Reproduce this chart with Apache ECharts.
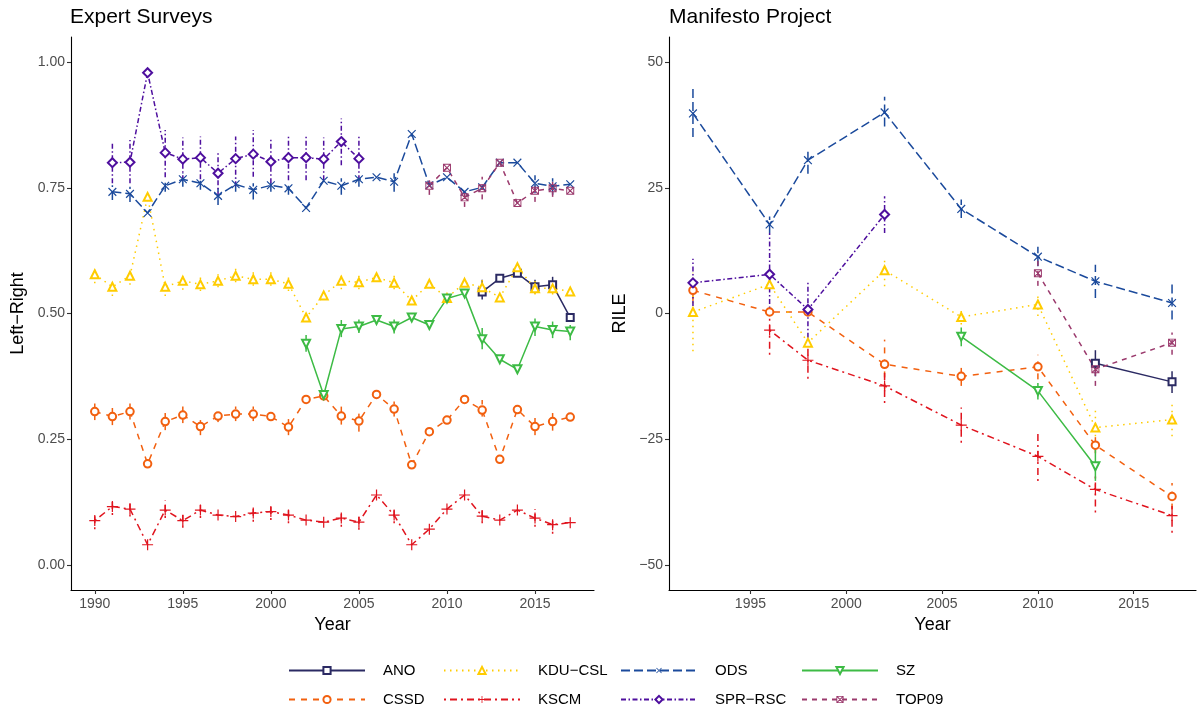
<!DOCTYPE html>
<html>
<head>
<meta charset="utf-8">
<script src="https://cdn.jsdelivr.net/npm/echarts@6/dist/echarts.min.js"></script>
<style>
  html, body { margin: 0; padding: 0; background: #fff; }
  #chart { width: 1198px; height: 709px; }
</style>
</head>
<body>
<div id="chart"></div>
<script>
// parties, in legend order (row-major: columns read top then bottom)
const parties = ['ANO', 'CSSD', 'KDU−CSL', 'KSCM', 'ODS', 'SPR−RSC', 'SZ', 'TOP09'];
const xTicksES = [1990, 1995, 2000, 2005, 2010, 2015];
const yTicksES = [0, 0.25, 0.5, 0.75, 1];
const xTicksMP = [1995, 2000, 2005, 2010, 2015];
const yTicksMP = [-50, -25, 0, 25, 50];

// Expert surveys: [year, score]
const esANO = [[2012, 0.543], [2013, 0.570], [2014, 0.580], [2015, 0.553], [2016, 0.557], [2017, 0.492]];
const esCSSD = [[1990, 0.305], [1991, 0.295], [1992, 0.305], [1993, 0.201], [1994, 0.285], [1995, 0.298],
  [1996, 0.275], [1997, 0.296], [1998, 0.300], [1999, 0.300], [2000, 0.295], [2001, 0.274], [2002, 0.329],
  [2003, 0.336], [2004, 0.296], [2005, 0.286], [2006, 0.339], [2007, 0.310], [2008, 0.199], [2009, 0.265],
  [2010, 0.288], [2011, 0.329], [2012, 0.308], [2013, 0.210], [2014, 0.309], [2015, 0.275], [2016, 0.285], [2017, 0.294]];
const esKDU = [[1990, 0.578], [1991, 0.553], [1992, 0.575], [1993, 0.732], [1994, 0.553], [1995, 0.565],
  [1996, 0.558], [1997, 0.565], [1998, 0.575], [1999, 0.568], [2000, 0.568], [2001, 0.559], [2002, 0.492],
  [2003, 0.536], [2004, 0.565], [2005, 0.562], [2006, 0.572], [2007, 0.561], [2008, 0.526], [2009, 0.559],
  [2010, 0.531], [2011, 0.561], [2012, 0.552], [2013, 0.532], [2014, 0.592], [2015, 0.550], [2016, 0.550], [2017, 0.544]];
const esKSCM = [[1990, 0.088], [1991, 0.116], [1992, 0.111], [1993, 0.040], [1994, 0.109], [1995, 0.088],
  [1996, 0.109], [1997, 0.099], [1998, 0.096], [1999, 0.103], [2000, 0.106], [2001, 0.099], [2002, 0.089],
  [2003, 0.085], [2004, 0.093], [2005, 0.085], [2006, 0.139], [2007, 0.099], [2008, 0.040], [2009, 0.071],
  [2010, 0.111], [2011, 0.139], [2012, 0.097], [2013, 0.089], [2014, 0.109], [2015, 0.093], [2016, 0.080], [2017, 0.084]];
const esODS = [[1991, 0.742], [1992, 0.738], [1993, 0.700], [1994, 0.754], [1995, 0.767], [1996, 0.759],
  [1997, 0.734], [1998, 0.757], [1999, 0.746], [2000, 0.755], [2001, 0.749], [2002, 0.710], [2003, 0.764],
  [2004, 0.754], [2005, 0.767], [2006, 0.771], [2007, 0.762], [2008, 0.857], [2009, 0.755], [2010, 0.771],
  [2011, 0.742], [2012, 0.751], [2013, 0.800], [2014, 0.800], [2015, 0.759], [2016, 0.753], [2017, 0.757]];
const esSPR = [[1991, 0.800], [1992, 0.801], [1993, 0.979], [1994, 0.820], [1995, 0.807], [1996, 0.810],
  [1997, 0.779], [1998, 0.808], [1999, 0.817], [2000, 0.802], [2001, 0.810], [2002, 0.810], [2003, 0.807],
  [2004, 0.842], [2005, 0.808]];
const esSZ = [[2002, 0.440], [2003, 0.338], [2004, 0.469], [2005, 0.474], [2006, 0.487], [2007, 0.474],
  [2008, 0.492], [2009, 0.477], [2010, 0.530], [2011, 0.540], [2012, 0.449], [2013, 0.409], [2014, 0.389],
  [2015, 0.474], [2016, 0.467], [2017, 0.464]];
const esTOP09 = [[2009, 0.754], [2010, 0.790], [2011, 0.731], [2012, 0.749], [2013, 0.800], [2014, 0.720],
  [2015, 0.744], [2016, 0.749], [2017, 0.744]];

// Expert survey uncertainty: [year, low, high]
const esANOErr = [[2012, 0.528, 0.567], [2015, 0.540, 0.567], [2016, 0.543, 0.573]];
const esCSSDErr = [[1990, 0.288, 0.321], [1991, 0.278, 0.312], [1992, 0.289, 0.321], [1994, 0.268, 0.302],
  [1995, 0.282, 0.315], [1996, 0.258, 0.288], [1997, 0.284, 0.306], [1998, 0.286, 0.315], [1999, 0.286, 0.315],
  [2001, 0.258, 0.290], [2004, 0.279, 0.315], [2005, 0.265, 0.305], [2007, 0.295, 0.325], [2012, 0.295, 0.328],
  [2015, 0.258, 0.292], [2016, 0.267, 0.302]];
const esKDUErr = [[1990, 0.560, 0.590], [1991, 0.535, 0.567], [1992, 0.557, 0.587], [1994, 0.535, 0.568],
  [1995, 0.547, 0.580], [1996, 0.545, 0.572], [1997, 0.552, 0.578], [1998, 0.562, 0.590], [1999, 0.555, 0.582],
  [2000, 0.555, 0.582], [2001, 0.545, 0.572], [2004, 0.548, 0.578], [2005, 0.548, 0.575], [2007, 0.548, 0.575],
  [2012, 0.540, 0.568], [2015, 0.538, 0.565], [2016, 0.538, 0.565]];
const esKSCMErr = [[1990, 0.071, 0.103], [1991, 0.099, 0.133], [1992, 0.096, 0.126], [1994, 0.093, 0.128],
  [1995, 0.074, 0.103], [1996, 0.093, 0.126], [1999, 0.086, 0.119], [2000, 0.089, 0.123], [2001, 0.083, 0.113],
  [2004, 0.076, 0.109], [2005, 0.070, 0.099], [2007, 0.083, 0.116], [2012, 0.083, 0.113], [2015, 0.076, 0.111],
  [2016, 0.062, 0.095]];
const esODSErr = [[1991, 0.726, 0.755], [1992, 0.722, 0.752], [1994, 0.742, 0.765], [1995, 0.752, 0.779],
  [1996, 0.746, 0.772], [1997, 0.716, 0.749], [1998, 0.742, 0.769], [1999, 0.727, 0.759], [2000, 0.742, 0.765],
  [2001, 0.736, 0.762], [2004, 0.736, 0.769], [2005, 0.752, 0.775], [2007, 0.742, 0.779], [2015, 0.739, 0.775],
  [2016, 0.736, 0.769]];
const esSPRErr = [[1991, 0.759, 0.842], [1992, 0.759, 0.845], [1994, 0.771, 0.865], [1995, 0.765, 0.850],
  [1996, 0.767, 0.852], [1997, 0.732, 0.822], [1998, 0.753, 0.852], [1999, 0.772, 0.865], [2000, 0.759, 0.846],
  [2001, 0.765, 0.852], [2002, 0.765, 0.852], [2003, 0.765, 0.850], [2004, 0.795, 0.888], [2005, 0.765, 0.852]];
const esSZErr = [[2002, 0.424, 0.457], [2004, 0.453, 0.487], [2005, 0.461, 0.488], [2007, 0.460, 0.488],
  [2012, 0.429, 0.471], [2015, 0.455, 0.490], [2016, 0.451, 0.484], [2017, 0.447, 0.477]];
const esTOP09Err = [[2009, 0.736, 0.765], [2011, 0.712, 0.742], [2012, 0.727, 0.772], [2015, 0.722, 0.762],
  [2016, 0.732, 0.767]];

// Manifesto project RILE: [year, score]
const mpANO = [[2013, -9.9], [2017, -13.6]];
const mpCSSD = [[1992, 4.6], [1996, 0.3], [1998, 0.3], [2002, -10.1], [2006, -12.5], [2010, -10.6], [2013, -26.2], [2017, -36.4]];
const mpKDU = [[1992, 0.3], [1996, 5.8], [1998, -5.8], [2002, 8.6], [2006, -0.7], [2010, 1.8], [2013, -22.7], [2017, -21.1]];
const mpKSCM = [[1996, -3.3], [1998, -9.3], [2002, -14.4], [2006, -22.2], [2010, -28.4], [2013, -35.0], [2017, -40.2]];
const mpODS = [[1992, 39.8], [1996, 17.7], [1998, 30.5], [2002, 40.0], [2006, 20.8], [2010, 11.3], [2013, 6.4], [2017, 2.1]];
const mpSPR = [[1992, 6.1], [1996, 7.8], [1998, 0.8], [2002, 19.7]];
const mpSZ = [[2006, -4.6], [2010, -15.4], [2013, -30.4]];
const mpTOP09 = [[2010, 8.0], [2013, -11.1], [2017, -5.8]];

const mpANOErr = [[2013, -12.5, -7.3], [2017, -15.8, -11.5]];
const mpCSSDErr = [[1992, 2.5, 6.7], [2002, -15.1, -5.2], [2006, -14.4, -10.8], [2010, -13.1, -8.2], [2013, -27.8, -24.6], [2017, -39.0, -33.7]];
const mpKDUErr = [[1992, -7.5, 8.1], [2002, 5.4, 11.4], [2006, -2.2, 0.8], [2010, -0.5, 4.1], [2013, -24.4, -19.1], [2017, -24.4, -18.1]];
const mpKSCMErr = [[1996, -8.2, 1.6], [1998, -13.0, -6.8], [2002, -17.8, -11.8], [2006, -25.7, -18.7], [2010, -33.3, -23.7], [2013, -39.6, -31.7], [2017, -43.6, -38.3]];
const mpODSErr = [[1992, 35.1, 44.7], [1996, 16.0, 19.3], [1998, 27.8, 32.9], [2002, 37.2, 43.1], [2006, 19.0, 22.7], [2010, 9.4, 13.3], [2013, 3.1, 9.7], [2017, -1.2, 5.8]];
const mpSPRErr = [[1992, 1.5, 10.9], [1996, -0.4, 16.0], [1998, -4.8, 6.4], [2002, 16.0, 23.3]];
const mpSZErr = [[2006, -6.5, -2.8], [2010, -17.1, -13.8], [2013, -33.3, -27.0]];
const mpTOP09Err = [[2010, 5.5, 10.5], [2013, -14.4, -8.5], [2017, -8.2, -3.8]];

const PLUS = 'path://M0,4.45L10,4.45L10,5.55L0,5.55Z M4.45,0L5.55,0L5.55,10L4.45,10Z';
const BOXX = 'path://M0,0L10,0L10,10L0,10Z M1.2,1.2L1.2,8.8L8.8,8.8L8.8,1.2Z ' +
  'M1.2,1.2L2.2,1.2L8.8,7.8L8.8,8.8L7.8,8.8L1.2,2.2Z M8.8,1.2L8.8,2.2L2.2,8.8L1.2,8.8L1.2,7.8L7.8,1.2Z';

const styles = {
  'ANO':     { color: '#2b2a63', dash: 'solid', symbol: 'emptyRect', size: 7, rotate: 0 },
  'CSSD':    { color: '#f2600f', dash: [6, 6], symbol: 'emptyCircle', size: 7.5, rotate: 0 },
  'KDU−CSL': { color: '#ffcc00', dash: [1.5, 4.5], symbol: 'emptyTriangle', size: 8, rotate: 0 },
  'KSCM':    { color: '#e0141e', dash: [2, 4, 7, 4], symbol: PLUS, size: 11, rotate: 0 },
  'ODS':     { color: '#1b4a9c', dash: [9, 4], symbol: PLUS, size: 11, rotate: 45 },
  'SPR−RSC': { color: '#4e0f9e', dash: [5, 2.5, 1.5, 2.5], symbol: 'emptyDiamond', size: 9, rotate: 0 },
  'SZ':      { color: '#3dbb45', dash: 'solid', symbol: 'emptyTriangle', size: 8, rotate: 180 },
  'TOP09':   { color: '#9b3a6d', dash: [5, 5], symbol: BOXX, size: 8, rotate: 0 },
};

const esData = { 'ANO': esANO, 'CSSD': esCSSD, 'KDU−CSL': esKDU, 'KSCM': esKSCM, 'ODS': esODS, 'SPR−RSC': esSPR, 'SZ': esSZ, 'TOP09': esTOP09 };
const esErr = { 'ANO': esANOErr, 'CSSD': esCSSDErr, 'KDU−CSL': esKDUErr, 'KSCM': esKSCMErr, 'ODS': esODSErr, 'SPR−RSC': esSPRErr, 'SZ': esSZErr, 'TOP09': esTOP09Err };
const mpData = { 'ANO': mpANO, 'CSSD': mpCSSD, 'KDU−CSL': mpKDU, 'KSCM': mpKSCM, 'ODS': mpODS, 'SPR−RSC': mpSPR, 'SZ': mpSZ, 'TOP09': mpTOP09 };
const mpErr = { 'ANO': mpANOErr, 'CSSD': mpCSSDErr, 'KDU−CSL': mpKDUErr, 'KSCM': mpKSCMErr, 'ODS': mpODSErr, 'SPR−RSC': mpSPRErr, 'SZ': mpSZErr, 'TOP09': mpTOP09Err };

const FONT = '"Liberation Sans", Arial, Helvetica, sans-serif';
const minus = (s) => String(s).replace('-', '−');

function lineSeries(name, data, panel) {
  const s = styles[name];
  const isPath = s.symbol.indexOf('path://') === 0;
  return {
    type: 'line',
    name,
    xAxisIndex: panel,
    yAxisIndex: panel,
    data,
    symbol: s.symbol,
    symbolSize: s.size,
    symbolRotate: s.rotate,
    showAllSymbol: true,
    animation: false,
    lineStyle: { color: s.color, width: 1.5, type: s.dash },
    itemStyle: { color: s.color, borderColor: s.color, borderWidth: isPath ? 0 : 1.1 },
    emphasis: { disabled: true },
    z: 3,
  };
}

function errSeries(name, data, panel) {
  const s = styles[name];
  return {
    type: 'custom',
    name: name + ' err',
    xAxisIndex: panel,
    yAxisIndex: panel,
    data,
    encode: { x: 0, y: [1, 2] },
    animation: false,
    silent: true,
    z: 2,
    renderItem(params, api) {
      const lo = api.coord([api.value(0), api.value(1)]);
      const hi = api.coord([api.value(0), api.value(2)]);
      return {
        type: 'line',
        shape: { x1: lo[0], y1: lo[1], x2: hi[0], y2: hi[1] },
        style: { stroke: s.color, lineWidth: 1.5, lineDash: s.dash === 'solid' ? null : s.dash },
      };
    },
  };
}

const series = [];
parties.forEach((p) => {
  series.push(lineSeries(p, esData[p], 0));
  series.push(lineSeries(p, mpData[p], 1));
});
parties.forEach((p) => {
  series.push(errSeries(p, esErr[p], 0));
  series.push(errSeries(p, mpErr[p], 1));
});

const axisCommon = {
  type: 'value',
  axisLine: { show: true, onZero: false, lineStyle: { color: '#000', width: 1.1 } },
  axisTick: { show: true, length: 4, lineStyle: { color: '#333', width: 1.1 } },
  splitLine: { show: false },
  nameLocation: 'middle',
  nameTextStyle: { fontFamily: FONT, fontSize: 18, color: '#000' },
};
const labelStyle = { fontFamily: FONT, fontSize: 14, color: '#4d4d4d' };

// legend grid: 4 columns x 2 rows, one legend per entry so columns line up
const legendCols = [288, 443, 620, 801];
const legendRows = [663, 692];
const legends = parties.map((p, i) => ({
  data: [p],
  left: legendCols[Math.floor(i / 2)],
  top: legendRows[i % 2],
  padding: 0,
  itemWidth: 76,
  itemHeight: 9,
  selectedMode: false,
  textStyle: { fontFamily: FONT, fontSize: 15, color: '#000', padding: [0, 0, 0, 13] },
}));

const option = {
  backgroundColor: '#fff',
  animation: false,
  title: [
    { text: 'Expert Surveys', left: 70, top: 7, padding: 0, textStyle: { fontFamily: FONT, fontSize: 21, fontWeight: 'normal', color: '#000' } },
    { text: 'Manifesto Project', left: 669, top: 7, padding: 0, textStyle: { fontFamily: FONT, fontSize: 21, fontWeight: 'normal', color: '#000' } },
  ],
  grid: [
    { left: 71, top: 37, width: 523, height: 553 },
    { left: 669, top: 37, width: 527, height: 553 },
  ],
  xAxis: [
    Object.assign({}, axisCommon, {
      gridIndex: 0, min: 1988.65, max: 2018.35, name: 'Year', nameGap: 26,
      axisLabel: Object.assign({ customValues: xTicksES, margin: 7, formatter: (v) => String(v) }, labelStyle),
      axisTick: Object.assign({}, axisCommon.axisTick, { customValues: xTicksES }),
    }),
    Object.assign({}, axisCommon, {
      gridIndex: 1, min: 1990.75, max: 2018.25, name: 'Year', nameGap: 26,
      axisLabel: Object.assign({ customValues: xTicksMP, margin: 7, formatter: (v) => String(v) }, labelStyle),
      axisTick: Object.assign({}, axisCommon.axisTick, { customValues: xTicksMP }),
    }),
  ],
  yAxis: [
    Object.assign({}, axisCommon, {
      gridIndex: 0, min: -0.05, max: 1.05, name: 'Left−Right', nameGap: 44,
      axisLabel: Object.assign({ customValues: yTicksES, margin: 6, formatter: (v) => v.toFixed(2) }, labelStyle),
      axisTick: Object.assign({}, axisCommon.axisTick, { customValues: yTicksES }),
    }),
    Object.assign({}, axisCommon, {
      gridIndex: 1, min: -55, max: 55, name: 'RILE', nameGap: 40,
      axisLabel: Object.assign({ customValues: yTicksMP, margin: 6, formatter: (v) => minus(v) }, labelStyle),
      axisTick: Object.assign({}, axisCommon.axisTick, { customValues: yTicksMP }),
    }),
  ],
  legend: legends,
  series,
};

const chart = echarts.init(document.getElementById('chart'), null, { renderer: 'canvas' });
chart.setOption(option);
</script>
</body>
</html>
